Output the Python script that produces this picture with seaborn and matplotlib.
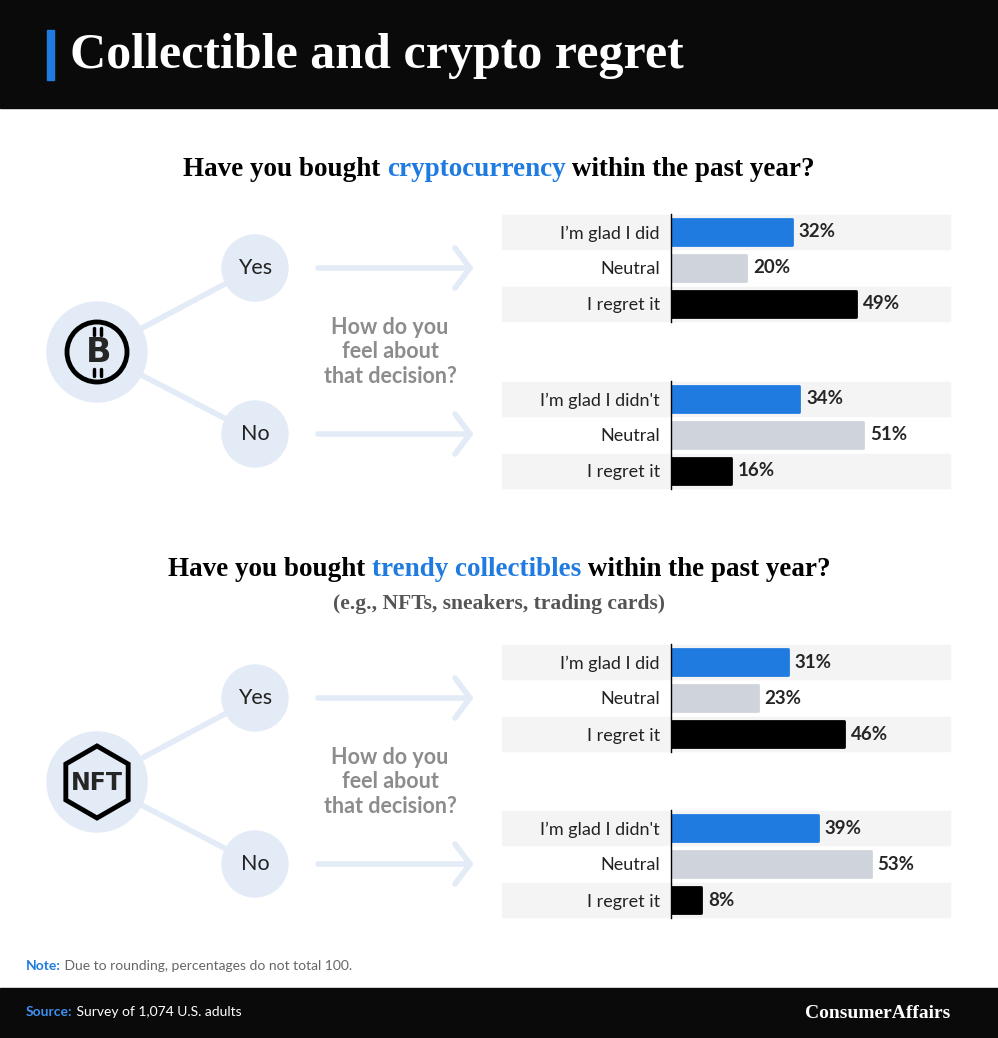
import matplotlib
matplotlib.use("Agg")
import matplotlib.pyplot as plt
import matplotlib.patches as mp
import seaborn as sns
import pandas as pd

sns.set_theme(style="white")
plt.rcParams['font.family'] = ['Lato', 'DejaVu Sans']

answers_yes = ["I’m glad I did", "Neutral", "I regret it"]
answers_no = ["I’m glad I didn't", "Neutral", "I regret it"]
crypto_yes = [32, 20, 49]
crypto_no = [34, 51, 16]
collect_yes = [31, 23, 46]
collect_no = [39, 53, 8]

BLUE = "#1f7be0"
GREY = "#cfd4dc"
PALE = "#e3ebf6"
W, H = 998, 1038

fig = plt.figure(figsize=(9.98, 10.38), dpi=100)
ax0 = fig.add_axes([0, 0, 1, 1])
ax0.set_xlim(0, W)
ax0.set_ylim(H, 0)
ax0.axis("off")

# header / footer
ax0.add_patch(mp.Rectangle((0, 0), W, 108, color="#0a0a0a"))
ax0.add_patch(mp.Rectangle((47, 30), 7, 50, color=BLUE))
ax0.text(70, 56, "Collectible and crypto regret", color="white", fontsize=36,
         fontweight="bold", family="Liberation Serif", va="center")
ax0.add_patch(mp.Rectangle((0, 988), W, 50, color="#0a0a0a"))


def rich(pieces, x, y, size, family, center=True):
    fig.canvas.draw()
    r = fig.canvas.get_renderer()
    arts = []
    for s, c, w in pieces:
        arts.append(ax0.text(0, y, s, color=c, fontsize=size, fontweight=w,
                             family=family, va="center"))
    widths = [a.get_window_extent(r).width for a in arts]
    tot = sum(widths)
    cx = x - tot / 2 if center else x
    for a, w in zip(arts, widths):
        a.set_x(cx)
        cx += w


rich([("Have you bought ", "black", "bold"), ("cryptocurrency", BLUE, "bold"),
      (" within the past year?", "black", "bold")], 499, 170, 19.5, "Liberation Serif")
rich([("Have you bought ", "black", "bold"), ("trendy collectibles", BLUE, "bold"),
      (" within the past year?", "black", "bold")], 499, 569, 19.5, "Liberation Serif")
ax0.text(499, 604, "(e.g., NFTs, sneakers, trading cards)", color="#555555", fontsize=15.5,
         fontweight="bold", family="Liberation Serif", ha="center", va="center")
rich([("Note:", BLUE, "bold"), (" Due to rounding, percentages do not total 100.", "#666666", "normal")],
     26, 966, 10, "Lato", center=False)
rich([("Source:", "#3f8ff0", "bold"), (" Survey of 1,074 U.S. adults", "white", "normal")],
     26, 1012, 10, "Lato", center=False)
ax0.text(950, 1013, "ConsumerAffairs", color="white", fontsize=14, fontweight="bold",
         family="Liberation Serif", ha="right", va="center")


def tree(cy, icon):
    ya, yb = cy - 84, cy + 82
    ax0.plot([97, 255], [cy, ya], color=PALE, lw=4, zorder=1)
    ax0.plot([97, 255], [cy, yb], color=PALE, lw=4, zorder=1)
    ax0.add_patch(mp.Circle((97, cy), 50, color=PALE, zorder=2))
    for yy, t in [(ya, "Yes"), (yb, "No")]:
        ax0.add_patch(mp.Circle((255, yy), 33, color=PALE, zorder=2))
        ax0.text(255, yy, t, fontsize=15.5, ha="center", va="center", color="#222222", zorder=3)
        ax0.plot([318, 470], [yy, yy], color=PALE, lw=4, solid_capstyle="round")
        ax0.plot([455, 470, 455], [yy - 20, yy, yy + 20], color=PALE, lw=4,
                 solid_capstyle="round")
    ax0.text(390, cy, "How do you\nfeel about\nthat decision?", fontsize=15.5, color="#8c8c8c",
             ha="center", va="center", fontweight="bold", linespacing=1.2)
    if icon == "btc":
        ax0.add_patch(mp.Circle((97, cy), 30, fill=False, ec="black", lw=3.5, zorder=3))
        ax0.text(99, cy, "B", fontsize=24, fontweight="bold", ha="center", va="center",
                 family="DejaVu Sans", zorder=4)
        for dx in (-3, 4):
            ax0.plot([97 + dx] * 2, [cy - 24, cy - 17], color="black", lw=2.5, zorder=4)
            ax0.plot([97 + dx] * 2, [cy + 17, cy + 24], color="black", lw=2.5, zorder=4)
    else:
        ax0.add_patch(mp.RegularPolygon((97, cy), 6, radius=36, orientation=0,
                                        fill=False, ec="black", lw=3.5, zorder=3))
        ax0.text(97, cy + 1, "NFT", fontsize=17, fontweight="bold", ha="center", va="center",
                 family="DejaVu Sans", zorder=4)


tree(352, "btc")
tree(782, "nft")


def bars(cy, labels, vals):
    top = cy - 18
    for i in (0, 2):
        ax0.add_patch(mp.Rectangle((502, top + i * 36 + 1), 448, 34, color="#f4f4f4", zorder=0))
    ax = fig.add_axes([671 / W, 1 - (top + 108) / H, (950 - 671) / W, 108 / H])
    df = pd.DataFrame({"answer": labels, "pct": vals})
    sns.barplot(data=df, x="pct", y="answer", hue="answer", palette=[BLUE, GREY, "black"],
                saturation=1, width=0.72, legend=False, ax=ax)
    for p in ax.patches:
        p.set_joinstyle("round")
        p.set_edgecolor(p.get_facecolor())
        p.set_linewidth(2)
    ax.set_xlim(0, 74)
    ax.patch.set_alpha(0)
    ax.set_xlabel("")
    ax.set_ylabel("")
    ax.set_xticks([])
    ax.tick_params(axis="y", length=0, pad=8, labelsize=13, labelcolor="#222222")
    for s in ["top", "right", "bottom"]:
        ax.spines[s].set_visible(False)
    ax.spines["left"].set_color("black")
    ax.spines["left"].set_linewidth(1)
    for i, v in enumerate(vals):
        ax.text(v + 1.8, i, f"{v}%", va="center", fontsize=13.5, fontweight="bold")


bars(232, answers_yes, crypto_yes)
bars(399, answers_no, crypto_no)
bars(662, answers_yes, collect_yes)
bars(828, answers_no, collect_no)

fig.savefig("out.png", dpi=100)
